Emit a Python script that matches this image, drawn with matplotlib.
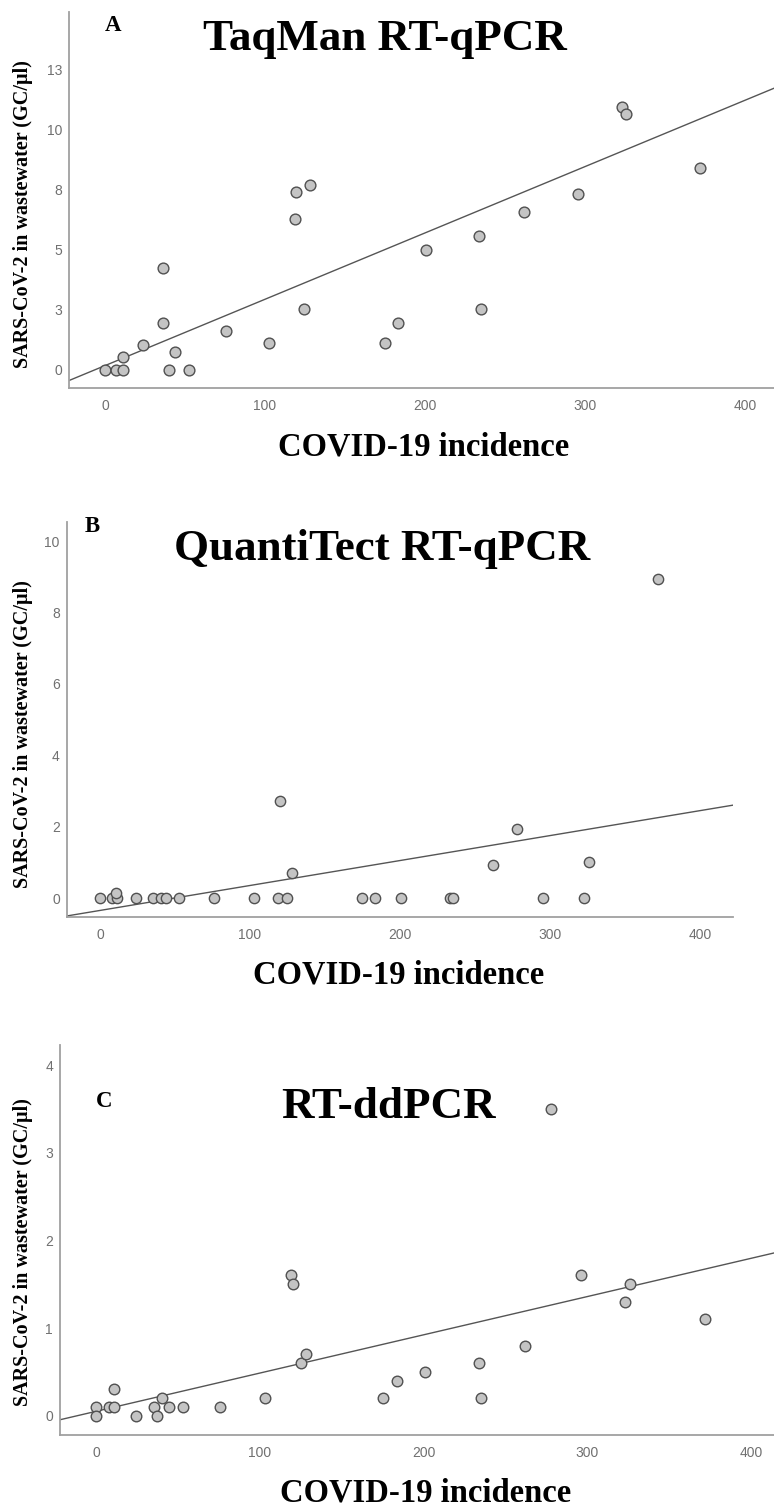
import numpy as np
import matplotlib
matplotlib.use('Agg')
import matplotlib.pyplot as plt

# --- data ---
# panel A: TaqMan RT-qPCR
inc_a = [0, 7, 11, 11, 23.5, 36, 36.5, 40, 43.5, 52.7, 75.6, 102.7, 119.4, 118.8,
         127.9, 124.4, 174.8, 183, 200.8, 233.8, 234.8, 261.9, 295.8, 322.9, 325.8, 372]
gc_a = [0, 0, 0, 0.53, 1.03, 4.25, 1.94, 0, 0.73, 0, 1.63, 1.12, 7.38, 6.27,
        7.7, 2.53, 1.12, 1.94, 4.97, 5.56, 2.53, 6.57, 7.29, 10.92, 10.62, 8.4]
fit_a = (0.18, 0.02756)  # intercept, slope

# panel B: QuantiTect RT-qPCR
inc_b = [0, 7.8, 11.1, 10.7, 23.8, 35.5, 40.4, 44, 52.9, 75.8, 102.7, 118.9, 120,
         124.9, 127.8, 174.9, 183.6, 200.5, 233.3, 235.1, 262, 277.8, 295.5, 322.9,
         325.8, 371.8]
gc_b = [0, 0, 0, 0.14, 0, 0, 0, 0, 0, 0, 0, 0, 2.73,
        0, 0.72, 0, 0, 0, 0, 0, 0.93, 1.93, 0, 0,
        1.02, 8.93]
fit_b = (-0.335, 0.00698)

# panel C: RT-ddPCR
inc_c = [0, 0, 7.9, 11.2, 11.2, 24.2, 35.6, 37.1, 40.1, 44.4, 52.9, 75.9, 103,
         118.9, 120.1, 125.2, 128, 175.1, 183.8, 201.1, 233.9, 235.1, 261.8, 278,
         296, 323, 326.1, 372.1]
gc_c = [0.1, 0.0, 0.1, 0.1, 0.3, 0.0, 0.1, 0.0, 0.2, 0.1, 0.1, 0.1, 0.2,
        1.6, 1.5, 0.6, 0.7, 0.2, 0.4, 0.5, 0.6, 0.2, 0.8, 3.5,
        1.6, 1.3, 1.5, 1.1]
fit_c = (0.05, 0.004365)

yticks_a = [0, 2.5, 5, 7.5, 10, 12.5]
ylabels_a = ['0', '3', '5', '8', '10', '13']
yticks_b = [0, 2, 4, 6, 8, 10]
yticks_c = [0, 1, 2, 3, 4]
xticks = [0, 100, 200, 300, 400]

titles = ['TaqMan RT-qPCR', 'QuantiTect RT-qPCR', 'RT-ddPCR']
letters = ['A', 'B', 'C']
xlab = 'COVID-19 incidence'
ylab = 'SARS-CoV-2 in wastewater (GC/µl)'

W, H = 774, 1506
SERIF = 'Liberation Serif'
SANS = 'Liberation Sans'


def box(left, top, right, bottom):
    # pixel box -> figure fraction rect
    return [left / W, 1 - bottom / H, (right - left) / W, (bottom - top) / H]


def fx(px):
    return px / W


def fy(py):
    return 1 - py / H


def panel(fig, rect, x, y, fit, xlim, ylim, yt, ytl, msize):
    ax = fig.add_axes(rect)
    ax.scatter(x, y, s=msize, facecolor='#c4c4c4', edgecolor='#505050',
               linewidth=1.0, zorder=3, clip_on=False)
    xs = np.array(xlim)
    ax.plot(xs, fit[0] + fit[1] * xs, color='#555555', lw=1.0, zorder=2)
    ax.set_xlim(xlim)
    ax.set_ylim(ylim)
    ax.set_xticks(xticks)
    ax.set_yticks(yt)
    ax.set_yticklabels(ytl)
    for s in ['top', 'right']:
        ax.spines[s].set_visible(False)
    for s in ['left', 'bottom']:
        ax.spines[s].set_color('#a0a0a0')
        ax.spines[s].set_linewidth(1.3)
    ax.tick_params(length=0, labelsize=10, labelcolor='#707070')
    ax.tick_params(axis='x', pad=8)
    ax.tick_params(axis='y', pad=5)
    for lab in ax.get_xticklabels() + ax.get_yticklabels():
        lab.set_family(SANS)
    return ax


fig = plt.figure(figsize=(W / 100, H / 100), dpi=100)

panel(fig, box(69, 12, 774, 388), inc_a, gc_a, fit_a, (-22.5, 418.1), (-0.75, 14.87),
      yticks_a, ylabels_a, 60)
panel(fig, box(66.7, 521.7, 732.7, 916.7), inc_b, gc_b, fit_b, (-22.2, 421.8), (-0.51, 10.54),
      yticks_b, [str(v) for v in yticks_b], 55)
panel(fig, box(60, 1045, 774, 1435), inc_c, gc_c, fit_c, (-22, 414), (-0.22, 4.23),
      yticks_c, [str(v) for v in yticks_c], 58)

# titles, panel letters, axis labels (pixel positions from the reference)
title_pos = [(385, 50), (381.7, 560), (388, 1118)]
letter_pos = [(113, 31), (92.5, 532), (104, 1107)]
xlab_pos = [(424, 455), (399, 983), (426, 1501)]
ylab_pos = [(23, 214), (22.7, 734), (22.7, 1252)]

for i in range(3):
    fig.text(fx(title_pos[i][0]), fy(title_pos[i][1]), titles[i], family=SERIF,
             weight='bold', fontsize=32.4, ha='center', va='baseline')
    fig.text(fx(letter_pos[i][0]), fy(letter_pos[i][1]), letters[i], family=SERIF,
             weight='bold', fontsize=16.5, ha='center', va='baseline')
    fig.text(fx(xlab_pos[i][0]), fy(xlab_pos[i][1]), xlab, family=SERIF,
             weight='bold', fontsize=23.5, ha='center', va='baseline')
    fig.text(fx(ylab_pos[i][0]), fy(ylab_pos[i][1]), ylab, family=SERIF,
             weight='bold', fontsize=14.5, ha='center', va='center', rotation=90)

fig.savefig('out.png', dpi=100)
